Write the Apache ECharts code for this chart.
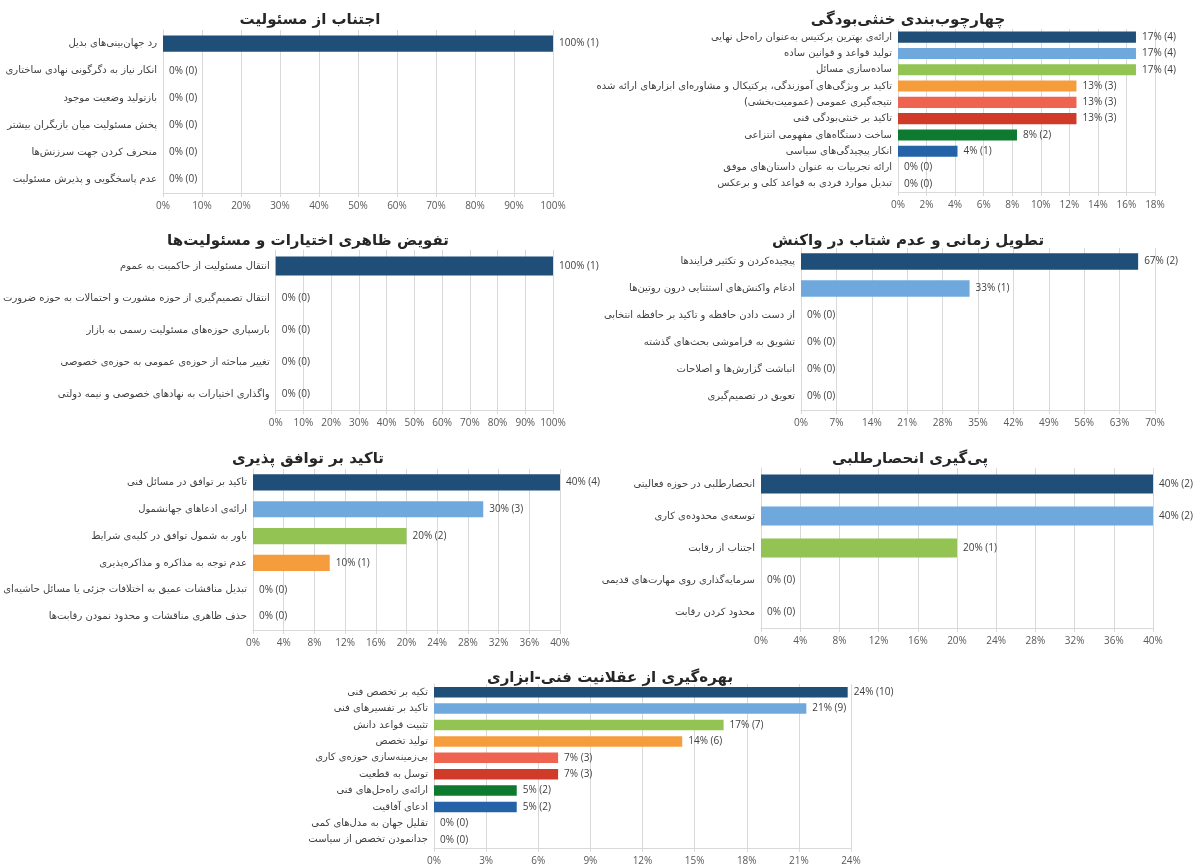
<!DOCTYPE html>
<html>
<head>
<meta charset="utf-8">
<script src="https://cdn.jsdelivr.net/npm/echarts@6/dist/echarts.min.js"></script>
<style>
  html, body { margin: 0; padding: 0; background: #fff; }
  #chart { width: 1198px; height: 867px; }
</style>
</head>
<body>
<div id="chart"></div>
<script>
// panel titles
const titles = [
  'اجتناب از مسئولیت',
  'چهارچوب‌بندی خنثی‌بودگی',
  'تفویض ظاهری اختیارات و مسئولیت‌ها',
  'تطویل زمانی و عدم شتاب در واکنش',
  'تاکید بر توافق پذیری',
  'پی‌گیری انحصارطلبی',
  'بهره‌گیری از عقلانیت فنی-ابزاری'
]

// categories + counts per panel
const cats1 = ['رد جهان‌بینی‌های بدیل', 'انکار نیاز به دگرگونی نهادی ساختاری', 'بازتولید وضعیت موجود', 'پخش مسئولیت میان بازیگران بیشتر', 'منحرف کردن جهت سرزنش‌ها', 'عدم پاسخگویی و پذیرش مسئولیت']
const counts1 = [1, 0, 0, 0, 0, 0]

const cats2 = ['ارائه‌ی بهترین پرکتیس به‌عنوان راه‌حل نهایی', 'تولید قواعد و قوانین ساده', 'ساده‌سازی مسائل', 'تاکید بر ویژگی‌های آموزندگی، پرکتیکال و مشاوره‌ای ابزارهای ارائه شده', 'نتیجه‌گیری عمومی (عمومیت‌بخشی)', 'تاکید بر خنثی‌بودگی فنی', 'ساخت دستگاه‌های مفهومی انتزاعی', 'انکار پیچیدگی‌های سیاسی', 'ارائه تجربیات به عنوان داستان‌های موفق', 'تبدیل موارد فردی به قواعد کلی و برعکس']
const counts2 = [4, 4, 4, 3, 3, 3, 2, 1, 0, 0]

const cats3 = ['انتقال مسئولیت از حاکمیت به عموم', 'انتقال تصمیم‌گیری از حوزه مشورت و احتمالات به حوزه ضرورت', 'بارسپاری حوزه‌های مسئولیت رسمی به بازار', 'تغییر مباحثه از حوزه‌ی عمومی به حوزه‌ی خصوصی', 'واگذاری اختیارات به نهادهای خصوصی و نیمه دولتی']
const counts3 = [1, 0, 0, 0, 0]

const cats4 = ['پیچیده‌کردن و تکثیر فرایندها', 'ادغام واکنش‌های استثنایی درون روتین‌ها', 'از دست دادن حافظه و تاکید بر حافظه انتخابی', 'تشویق به فراموشی بحث‌های گذشته', 'انباشت گزارش‌ها و اصلاحات', 'تعویق در تصمیم‌گیری']
const counts4 = [2, 1, 0, 0, 0, 0]

const cats5 = ['تاکید بر توافق در مسائل فنی', 'ارائه‌ی ادعاهای جهانشمول', 'باور به شمول توافق در کلیه‌ی شرایط', 'عدم توجه به مذاکره و مذاکره‌پذیری', 'تبدیل مناقشات عمیق به اختلافات جزئی یا مسائل حاشیه‌ای', 'حذف ظاهری مناقشات و محدود نمودن رقابت‌ها']
const counts5 = [4, 3, 2, 1, 0, 0]

const cats6 = ['انحصارطلبی در حوزه فعالیتی', 'توسعه‌ی محدوده‌ی کاری', 'اجتناب از رقابت', 'سرمایه‌گذاری روی مهارت‌های قدیمی', 'محدود کردن رقابت']
const counts6 = [2, 2, 1, 0, 0]

const cats7 = ['تکیه بر تخصص فنی', 'تاکید بر تفسیرهای فنی', 'تثبیت قواعد دانش', 'تولید تخصص', 'بی‌زمینه‌سازی حوزه‌ی کاری', 'توسل به قطعیت', 'ارائه‌ی راه‌حل‌های فنی', 'ادعای آفاقیت', 'تقلیل جهان به مدل‌های کمی', 'جدانمودن تخصص از سیاست']
const counts7 = [10, 9, 7, 6, 3, 3, 2, 2, 0, 0]

// value axis range per panel (percent)
const axisMax = [100, 18, 100, 70, 40, 40, 24]
const axisStep = [10, 2, 10, 7, 4, 4, 3]

const barColors = ['#1f4e79', '#6fa8dc', '#92c353', '#f59d3d', '#ef6450', '#d03a28', '#0e7a30', '#2563a8']

const panels = [
  { cats: cats1, counts: counts1 },
  { cats: cats2, counts: counts2 },
  { cats: cats3, counts: counts3 },
  { cats: cats4, counts: counts4 },
  { cats: cats5, counts: counts5 },
  { cats: cats6, counts: counts6 },
  { cats: cats7, counts: counts7 }
]

// layout of plot areas (px) and title anchors
const layout = [
  { left: 163, top: 30, width: 390, height: 163, tx: 305, ty: 8, gap: '40%' },
  { left: 898, top: 29, width: 257, height: 163, tx: 903, ty: 8, gap: '32%' },
  { left: 272, top: 250, width: 281, height: 160, tx: 303, ty: 229, gap: '40%' },
  { left: 801, top: 248, width: 354, height: 162, tx: 903, ty: 229, gap: '38%' },
  { left: 253, top: 469, width: 307, height: 161, tx: 303, ty: 447, gap: '40%' },
  { left: 761, top: 468, width: 392, height: 160, tx: 905, ty: 447, gap: '40%' },
  { left: 434, top: 684, width: 417, height: 164, tx: 605, ty: 666, gap: '36%' }
]

const latin = "'Open Sans', 'Noto Sans', sans-serif"
const persian = "'DejaVu Sans', sans-serif"

const chart = echarts.init(document.getElementById('chart'))

const option = {
  backgroundColor: '#fff',
  animation: false,
  title: [],
  grid: [],
  xAxis: [],
  yAxis: [],
  series: []
}

panels.forEach((p, i) => {
  const L = layout[i]
  const total = p.counts.reduce((a, b) => a + b, 0)

  option.title.push({
    text: titles[i],
    left: L.tx,
    top: L.ty,
    textAlign: 'center',
    textStyle: { fontFamily: persian, fontSize: 15, fontWeight: 'bold', color: '#262626' }
  })

  option.grid.push({ left: L.left, top: L.top, width: L.width, height: L.height, containLabel: false })

  option.xAxis.push({
    type: 'value',
    gridIndex: i,
    min: 0,
    max: axisMax[i],
    interval: axisStep[i],
    axisLine: { show: true, lineStyle: { color: '#d9d9d9' } },
    axisTick: { show: true, length: 4, lineStyle: { color: '#d9d9d9' } },
    axisLabel: { color: '#595959', fontSize: 10, fontFamily: latin, margin: 8, formatter: '{value}%' },
    splitLine: { show: true, lineStyle: { color: '#d9d9d9' } }
  })

  option.yAxis.push({
    type: 'category',
    gridIndex: i,
    inverse: true,
    data: p.cats,
    axisLine: { show: true, lineStyle: { color: '#d9d9d9' } },
    axisTick: { show: false },
    axisLabel: {
      color: '#404040',
      fontSize: 10,
      fontFamily: persian,
      margin: 6,
      formatter: v => '\u200F' + v + '\u200F'
    }
  })

  option.series.push({
    type: 'bar',
    xAxisIndex: i,
    yAxisIndex: i,
    barCategoryGap: L.gap,
    data: p.counts.map((c, j) => ({
      value: c / total * 100,
      count: c,
      itemStyle: { color: barColors[j % barColors.length] }
    })),
    label: {
      show: true,
      position: 'right',
      distance: 6,
      color: '#404040',
      fontSize: 10,
      fontFamily: latin,
      formatter: prm => Math.round(prm.value) + '% (' + prm.data.count + ')'
    }
  })
})

chart.setOption(option)
</script>
</body>
</html>
